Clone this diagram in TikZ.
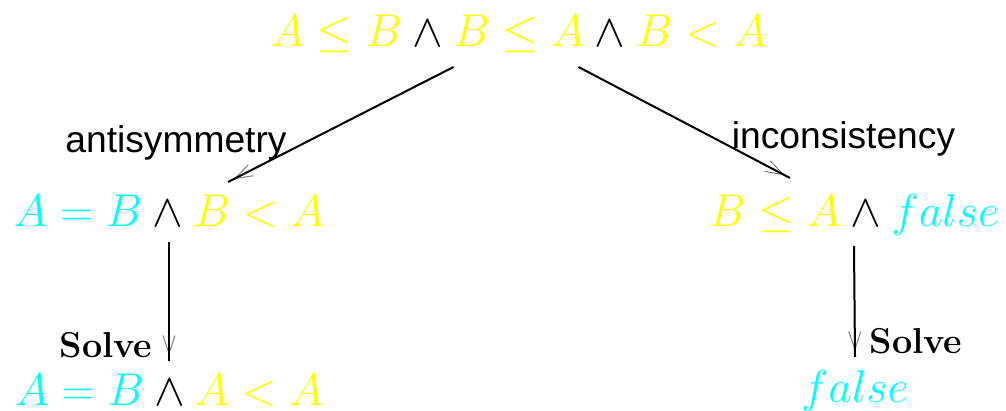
\documentclass[tikz,border=0pt]{standalone}
\usepackage{fix-cm}
\usepackage{fontspec}
\newfontfamily\labelsans{Liberation Sans}
\usetikzlibrary{arrows.meta}
\definecolor{termyellow}{RGB}{255,255,0}
\definecolor{termcyan}{RGB}{0,255,255}
\begin{document}
\begin{tikzpicture}[x=0.5pt,y=-0.5pt,
  formula/.style={anchor=base,inner sep=0pt,font=\fontsize{23}{28}\selectfont},
  rulename/.style={anchor=base,inner sep=0pt,font=\labelsans\fontsize{18.6}{22}\selectfont},
  solvelabel/.style={anchor=base,inner sep=0pt,font=\bfseries\fontsize{18}{22}\selectfont},
  shaft/.style={line width=1pt},
  tipline/.style={gray,line width=0.5pt,-{Straight Barb[length=9pt,width=6pt]},shorten >=3pt}]
\useasboundingbox (0,0) rectangle (1006,411);

% formulas
\node[formula] (top) at (518.5,47)
  {$\textcolor{termyellow}{A\leq B}\wedge\textcolor{termyellow}{B\leq A}\wedge\textcolor{termyellow}{B<A}$};
\node[formula] (lf) at (169,227)
  {$\textcolor{termcyan}{A=B}\wedge\textcolor{termyellow}{B<A}$};
\node[formula] (rf) at (854,227)
  {$\textcolor{termyellow}{B\leq A}\wedge\textcolor{termcyan}{false}$};
\node[formula] (lb) at (169,405)
  {$\textcolor{termcyan}{A=B}\wedge\textcolor{termyellow}{A<A}$};
\node[formula] (rb) at (855,402)
  {$\textcolor{termcyan}{false}$};

% rule names
\node[rulename] (anti) at (176,153) {antisymmetry};
\node[rulename] (inco) at (843.5,149) {inconsistency};
\node[solvelabel] (sl) at (106,357) {Solve};
\node[solvelabel] (sr) at (916,353) {Solve};

% connectors: gray tip first, black shaft on top
\draw[tipline] ([xshift=-32.5pt,yshift=-10pt]top.base) -- ([xshift=29.5pt,yshift=22.5pt]lf.base);
\draw[shaft]   ([xshift=-32.5pt,yshift=-10pt]top.base) -- ([xshift=29.5pt,yshift=22.5pt]lf.base);
\draw[tipline] ([xshift=30pt,yshift=-10pt]top.base) -- ([xshift=-32pt,yshift=24.5pt]rf.base);
\draw[shaft]   ([xshift=30pt,yshift=-10pt]top.base) -- ([xshift=-32pt,yshift=24.5pt]rf.base);
\draw[tipline] ([yshift=-7.5pt]lf.base) -- ([yshift=22pt]lb.base);
\draw[shaft]   ([yshift=-7.5pt]lf.base) -- ([yshift=22pt]lb.base);
\draw[tipline] ([yshift=-9.5pt]rf.base) -- ([yshift=22.5pt]rb.base);
\draw[shaft]   ([yshift=-9.5pt]rf.base) -- ([yshift=22.5pt]rb.base);
\end{tikzpicture}
\end{document}
